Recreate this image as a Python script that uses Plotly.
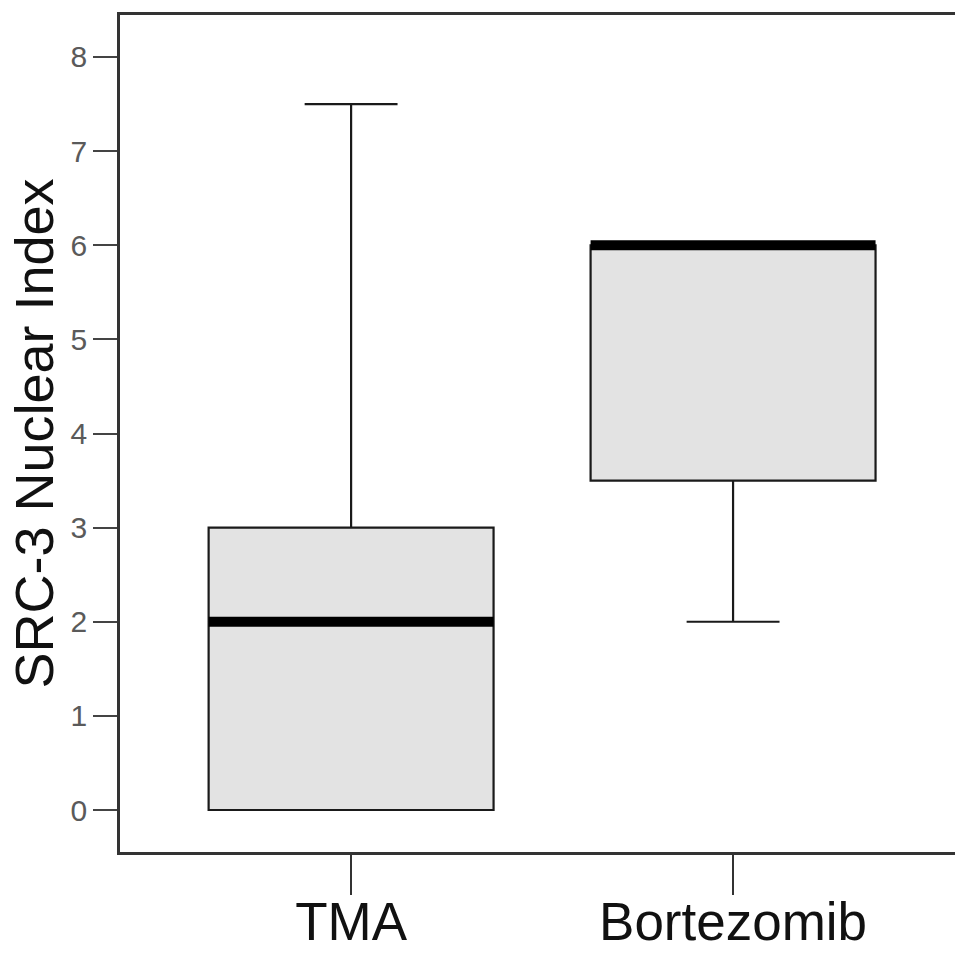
import plotly.graph_objects as go

categories = ["TMA", "Bortezomib"]
q1 = [0.0, 3.5]
median = [2.0, 6.0]
q3 = [3.0, 6.0]
lower = [0.0, 2.0]
upper = [7.5, 6.0]
y_ticks = [0, 1, 2, 3, 4, 5, 6, 7, 8]

positions = list(range(len(categories)))
BOX_W = 0.746

fig = go.Figure()
for i, c in enumerate(categories):
    fig.add_trace(go.Box(
        x=[positions[i]], q1=[q1[i]], median=[median[i]], q3=[q3[i]],
        lowerfence=[lower[i]], upperfence=[upper[i]],
        width=BOX_W, whiskerwidth=0.326,
        fillcolor="#e3e3e3", line=dict(color="#1a1a1a", width=2.2),
        boxpoints=False, name=c, showlegend=False, hoverinfo="skip",
    ))
    fig.add_trace(go.Scatter(
        x=[positions[i] - BOX_W / 2, positions[i] + BOX_W / 2],
        y=[median[i], median[i]], mode="lines",
        line=dict(color="#000000", width=10), showlegend=False, hoverinfo="skip",
    ))

fig.update_layout(
    width=955, height=953,
    margin=dict(l=120, r=0, t=15, b=101),
    paper_bgcolor="white", plot_bgcolor="white",
    font=dict(family="Liberation Sans, Arial, sans-serif"),
    xaxis=dict(
        range=[-0.605, 1.581], tickvals=positions, ticktext=categories,
        automargin=False, ticklabelstandoff=-18,
        showgrid=False, zeroline=False, showline=True, linecolor="#333333",
        linewidth=2.5, mirror=True, ticks="outside", ticklen=40, tickwidth=1.5,
        tickcolor="#333333", tickfont=dict(size=53, color="#111111"),
    ),
    yaxis=dict(
        range=[-0.446, 8.446], tickvals=y_ticks,
        automargin=False,
        showgrid=False, zeroline=False, showline=True, linecolor="#333333",
        linewidth=2.5, ticks="outside", ticklen=24, tickwidth=2,
        tickcolor="#444444", tickfont=dict(size=30, color="#5a5a5a"),
        title=dict(text="SRC-3 Nuclear Index", font=dict(size=54, color="#111111"), standoff=0),
    ),
)

fig.write_html(
    "out.html",
    config={"displayModeBar": False},
    post_script="document.body.style.margin='0';document.body.style.overflow='hidden';",
)
